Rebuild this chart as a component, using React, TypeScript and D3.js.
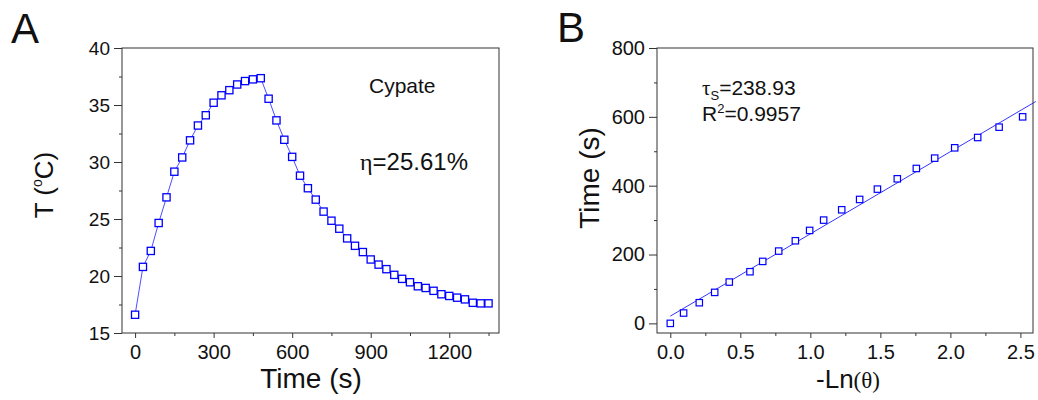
import React, { useEffect, useRef } from "react";
import * as d3 from "d3";

// panel A: photothermal heating / cooling curve
const heatTime = [0, 30, 60, 90, 120, 150, 180, 210, 240, 270, 300, 330, 360, 390, 420, 450, 480,
  510, 540, 570, 600, 630, 660, 690, 720, 750, 780, 810, 840, 870, 900, 930, 960, 990, 1020,
  1050, 1080, 1110, 1140, 1170, 1200, 1230, 1260, 1290, 1320, 1350];
const heatTemp = [16.6, 20.8, 22.2, 24.65, 26.9, 29.15, 30.4, 31.9, 33.2, 34.1, 35.2, 35.85, 36.3,
  36.8, 37.1, 37.25, 37.35, 35.55, 33.65, 31.95, 30.45, 28.8, 27.7, 26.7, 25.65, 24.85, 24.15,
  23.3, 22.65, 22.1, 21.45, 21.0, 20.6, 20.1, 19.75, 19.45, 19.1, 18.95, 18.7, 18.4, 18.25,
  18.1, 17.95, 17.65, 17.6, 17.6];
const xTicksA = [0, 300, 600, 900, 1200];
const xMinorA = [150, 450, 750, 1050, 1350];
const yTicksA = [15, 20, 25, 30, 35, 40];
const yMinorA = [17.5, 22.5, 27.5, 32.5, 37.5];

// panel B: cooling time vs -ln(theta)
const lnTheta = [0, 0.095, 0.207, 0.317, 0.421, 0.569, 0.66, 0.774, 0.893, 0.995, 1.095, 1.224,
  1.352, 1.479, 1.621, 1.757, 1.888, 2.031, 2.195, 2.348, 2.516];
const coolTime = [0, 30, 60, 90, 120, 150, 180, 210, 240, 270, 300, 330, 360, 390, 420, 450, 480,
  510, 540, 570, 600];
const xTicksB = [0, 0.5, 1, 1.5, 2, 2.5];
const xMinorB = [0.25, 0.75, 1.25, 1.75, 2.25];
const yTicksB = [0, 200, 400, 600, 800];
const yMinorB = [100, 300, 500, 700];
const fitSlope = 238.93;
const fitIntercept = 21;
const fitRange = [0, 2.61];

const font = "'Liberation Sans', Arial, sans-serif";
const serif = "'Liberation Serif', 'Times New Roman', serif";
const blue = "#0000ff";

// plot boxes
const A = { left: 122, right: 499, top: 48, bottom: 333 };
const B = { left: 657, right: 1033, top: 48, bottom: 333 };

const xA = d3.scaleLinear().domain([-50, 1390]).range([A.left, A.right]);
const yA = d3.scaleLinear().domain([15, 40]).range([A.bottom, A.top]);
const xB = d3.scaleLinear().domain([-0.095, 2.59]).range([B.left, B.right]);
const yB = d3.scaleLinear().domain([-28, 800]).range([B.bottom, B.top]);

function drawAxes(g, box, x, y, xt, xm, yt, ym, xfmt, ysize) {
  g.selectAll("*").remove();
  const bx = g.append("g").attr("transform", `translate(0,${box.bottom})`);
  bx.call(d3.axisBottom(x).tickValues(xt).tickSize(5).tickPadding(7).tickFormat(xfmt).tickSizeOuter(0));
  const bxm = g.append("g").attr("transform", `translate(0,${box.bottom})`);
  bxm.call(d3.axisBottom(x).tickValues(xm).tickSize(3).tickFormat(() => "").tickSizeOuter(0));
  const ly = g.append("g").attr("transform", `translate(${box.left},0)`);
  ly.call(d3.axisLeft(y).tickValues(yt).tickSize(8).tickPadding(4).tickFormat(d3.format("d")).tickSizeOuter(0));
  const lym = g.append("g").attr("transform", `translate(${box.left},0)`);
  lym.call(d3.axisLeft(y).tickValues(ym).tickSize(3).tickFormat(() => "").tickSizeOuter(0));
  g.selectAll(".domain").remove();
  g.selectAll(".tick line").attr("stroke", "#333").attr("stroke-width", 1);
  g.selectAll(".tick text").attr("fill", "#111").attr("font-family", font);
  bx.selectAll(".tick text").attr("font-size", 20);
  ly.selectAll(".tick text").attr("font-size", ysize);
}

export default function App() {
  const axA = useRef(null);
  const axB = useRef(null);

  useEffect(() => {
    drawAxes(d3.select(axA.current), A, xA, yA, xTicksA, xMinorA, yTicksA, yMinorA, d3.format("d"), 19);
    drawAxes(d3.select(axB.current), B, xB, yB, xTicksB, xMinorB, yTicksB, yMinorB, d3.format(".1f"), 20);
  }, []);

  const lineA = d3.line().x((d) => xA(d[0])).y((d) => yA(d[1]));
  const ptsA = heatTime.map((t, i) => [t, heatTemp[i]]);
  const fitLine = d3.line().x((d) => xB(d)).y((d) => yB(fitSlope * d + fitIntercept));

  return (
    <svg width={1038} height={400} style={{ position: "absolute", left: 0, top: 0, background: "#fff" }}
      fontFamily={font}>
      {/* panel A */}
      <text x={11} y={43} fontSize={42} fill="#111">A</text>
      <path d={lineA(ptsA)} fill="none" stroke={blue} strokeWidth={0.7} />
      {ptsA.map((d, i) => (
        <rect key={i} x={xA(d[0]) - 3.6} y={yA(d[1]) - 3.6} width={7.2} height={7.2}
          fill="#fff" stroke={blue} strokeWidth={1.3} />
      ))}
      <rect x={A.left} y={A.top} width={A.right - A.left} height={A.bottom - A.top}
        fill="none" stroke="#333" strokeWidth={1} />
      <g ref={axA} />
      <text x={369} y={93} fontSize={21} fill="#111">Cypate</text>
      <text x={360} y={170} fontSize={24} fill="#111">
        <tspan fontFamily={serif}>η</tspan>=25.61%
      </text>
      <text x={311} y={388} fontSize={28} textAnchor="middle" fill="#111">Time (s)</text>
      <text transform="translate(53,185) rotate(-90)" fontSize={26} textAnchor="middle" fill="#111">
        T (<tspan fontSize={14} dy={-11}>o</tspan><tspan dy={11}>C)</tspan>
      </text>

      {/* panel B */}
      <text x={557} y={42} fontSize={42} fill="#111">B</text>
      <path d={fitLine(fitRange)} fill="none" stroke={blue} strokeWidth={0.8} />
      {lnTheta.map((v, i) => (
        <rect key={i} x={xB(v) - 3.2} y={yB(coolTime[i]) - 3.2} width={6.4} height={6.4}
          fill="#fff" stroke={blue} strokeWidth={1.2} />
      ))}
      <rect x={B.left} y={B.top} width={B.right - B.left} height={B.bottom - B.top}
        fill="none" stroke="#333" strokeWidth={1} />
      <g ref={axB} />
      <text x={702} y={95} fontSize={21} fill="#111">
        <tspan fontFamily={serif}>τ</tspan><tspan fontSize={13} dy={5}>S</tspan><tspan dy={-5}>=238.93</tspan>
      </text>
      <text x={702} y={121} fontSize={21} fill="#111">
        R<tspan fontSize={13} dy={-8}>2</tspan><tspan dy={8}>=0.9957</tspan>
      </text>
      <text x={848} y={388} fontSize={26} textAnchor="middle" fill="#111">
        -Ln<tspan fontFamily={serif} fontSize={23}>(θ)</tspan>
      </text>
      <text transform="translate(599,178) rotate(-90)" fontSize={28} textAnchor="middle" fill="#111">Time (s)</text>
    </svg>
  );
}
